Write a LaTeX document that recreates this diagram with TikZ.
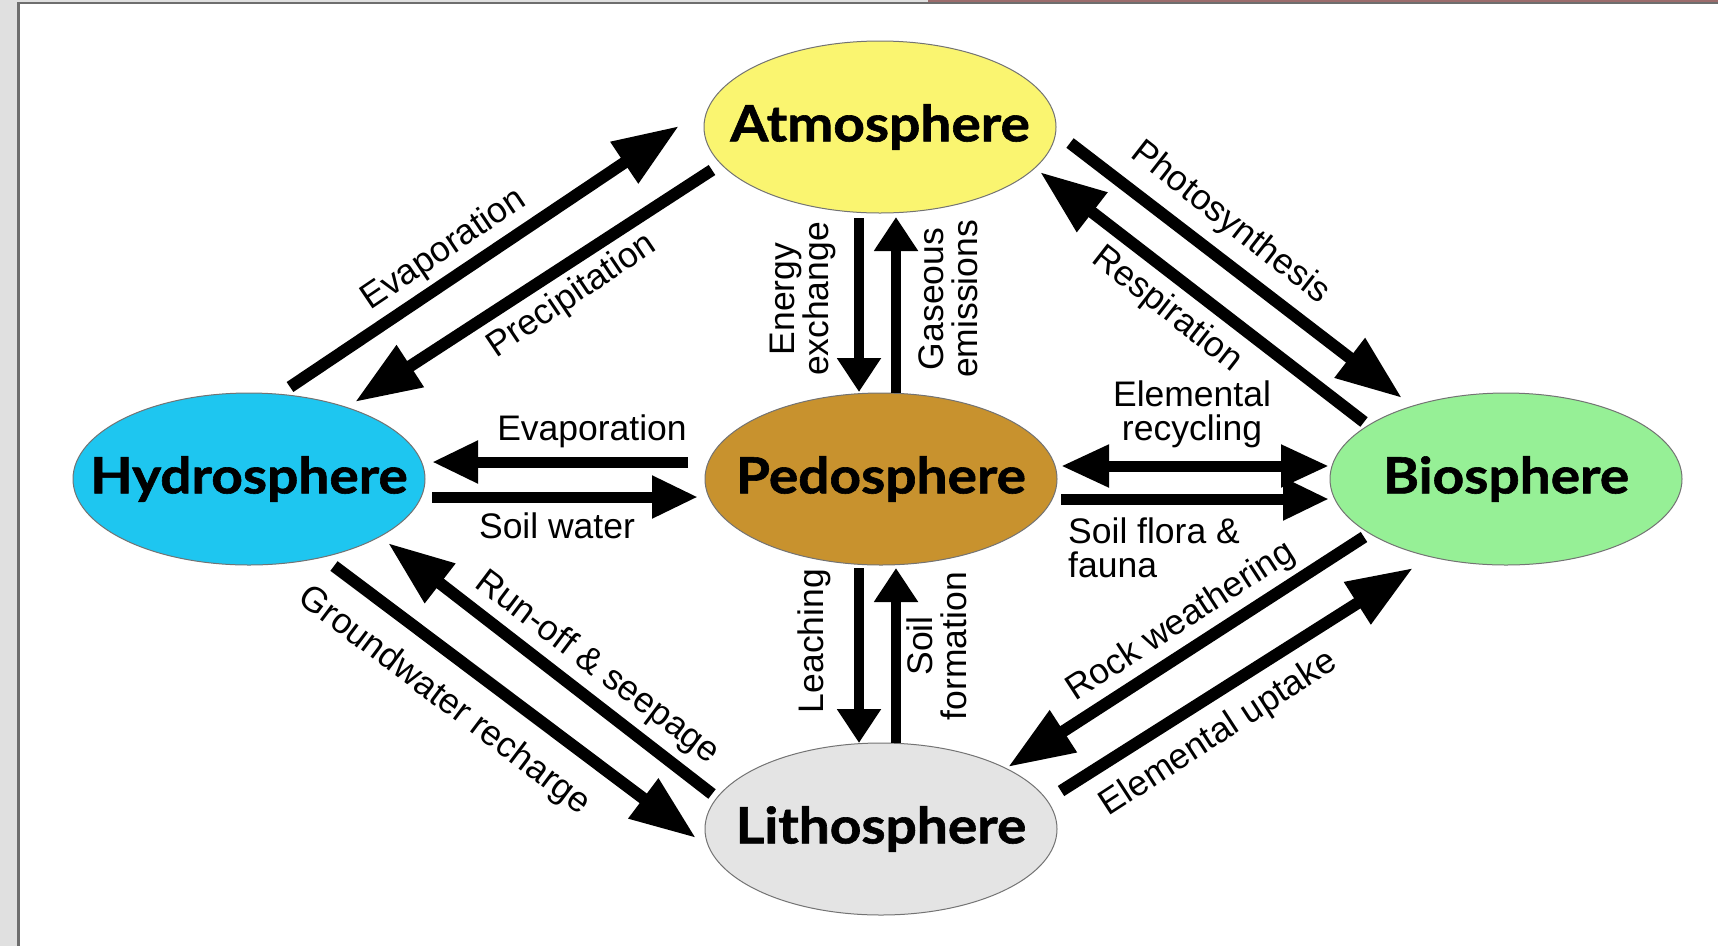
\documentclass[tikz,border=0pt]{standalone}
\usepackage{fontspec}
\setmainfont{Liberation Sans}
\newfontfamily\headfont{Lato}[FakeStretch=1.1, BoldFeatures={FakeBold=1.2}]
\usetikzlibrary{arrows.meta,shapes.geometric}
\definecolor{stripgrey}{HTML}{E0E0E0}
\definecolor{lineGrey}{HTML}{6E6E6E}
\definecolor{topred}{HTML}{9C6C6C}
\definecolor{atmcol}{HTML}{FAF570}
\definecolor{hydcol}{HTML}{1EC6F0}
\definecolor{pedcol}{HTML}{C8922E}
\definecolor{biocol}{HTML}{96F096}
\definecolor{litcol}{HTML}{E4E4E4}
\begin{document}
\begin{tikzpicture}[x=1pt,y=-1pt,
  sphere/.style={ellipse, draw=black!55, line width=1pt, minimum width=352pt,
    minimum height=172pt, inner sep=0pt},
  sphtext/.style={inner sep=0pt, font=\headfont\bfseries\fontsize{50}{52}\selectfont},
  flow/.style={line width=12pt, -{Triangle[length=66pt,width=47pt]}},
  hflow/.style={line width=11pt, -{Triangle[length=46pt,width=40pt]}},
  vflow/.style={line width=10pt, -{Triangle[length=34pt,width=42pt]}},
  dflow/.style={line width=11pt, {Triangle[length=48pt,width=40pt]}-{Triangle[length=48pt,width=40pt]}},
  lbl/.style={font=\fontsize{35.5}{34}\selectfont, align=center, inner sep=0pt}]
\useasboundingbox (0,0) rectangle (1718,946);
\fill[white] (0,0) rectangle (1718,946);
% frame
\fill[stripgrey] (0,0) rectangle (17,946);
\fill[stripgrey] (17,0) rectangle (928,2);
\fill[topred] (928,0) rectangle (1718,2);
\fill[lineGrey] (17,2) rectangle (1718,3.5);
\fill[lineGrey] (17,2) rectangle (19.5,946);

% spheres
\node[sphere, fill=atmcol] (atm) at (880,127) {};
\node[sphere, fill=hydcol] (hyd) at (249,479) {};
\node[sphere, fill=pedcol] (ped) at (881,479) {};
\node[sphere, fill=biocol] (bio) at (1506,479) {};
\node[sphere, fill=litcol] (lit) at (881,829) {};
\node[sphtext] (atmT) at (atm.center) {Atmosphere};
\node[sphtext] (hydT) at (hyd.center) {Hydrosphere};
\node[sphtext] (pedT) at (ped.center) {Pedosphere};
\node[sphtext] (bioT) at (bio.center) {Biosphere};
\node[sphtext] (litT) at (lit.center) {Lithosphere};

% arrow endpoints
\coordinate (evA) at (290,387);   \coordinate (evB) at (679,126);
\coordinate (prA) at (712,170);   \coordinate (prB) at (355,402);
\coordinate (phA) at (1070,143);  \coordinate (phB) at (1402,398);
\coordinate (reA) at (1364,422);  \coordinate (reB) at (1040,172);
\coordinate (enA) at (859,218);   \coordinate (enB) at (859,392);
\coordinate (gaA) at (896,393);   \coordinate (gaB) at (896,217);
\coordinate (epA) at (688,462);   \coordinate (epB) at (432,462);
\coordinate (swA) at (432,497);   \coordinate (swB) at (698,497);
\coordinate (erA) at (1061,466);  \coordinate (erB) at (1329,466);
\coordinate (sfA) at (1061,499);  \coordinate (sfB) at (1329,499);
\coordinate (leA) at (859,568);   \coordinate (leB) at (859,743);
\coordinate (soA) at (896,743);   \coordinate (soB) at (896,568);
\coordinate (grA) at (334,566);   \coordinate (grB) at (696,838);
\coordinate (ruA) at (712,794);   \coordinate (ruB) at (388,543);
\coordinate (rwA) at (1364,537);  \coordinate (rwB) at (1008,767);
\coordinate (euA) at (1061,791);  \coordinate (euB) at (1413,568);

% arrows
\draw[flow] (evA) -- (evB);
\draw[flow] (prA) -- (prB);
\draw[flow] (phA) -- (phB);
\draw[flow] (reA) -- (reB);
\draw[vflow] (enA) -- (enB);
\draw[vflow] (gaA) -- (gaB);
\draw[hflow] (epA) -- (epB);
\draw[hflow] (swA) -- (swB);
\draw[dflow] (erA) -- (erB);
\draw[hflow] (sfA) -- (sfB);
\draw[vflow] (leA) -- (leB);
\draw[vflow] (soA) -- (soB);
\draw[flow] (grA) -- (grB);
\draw[flow] (ruA) -- (ruB);
\draw[flow] (rwA) -- (rwB);
\draw[flow] (euA) -- (euB);

% labels
\node[lbl, rotate=34] (l1) at (444,250) {Evaporation};
\node[lbl, rotate=34] (l2) at (572,296) {Precipitation};
\node[lbl, rotate=-38] (l3) at (1230,223) {Photosynthesis};
\node[lbl, rotate=-38] (l4) at (1167,310) {Respiration};
\node[lbl, rotate=90] (l5) at (803,299) {Energy\\exchange};
\node[lbl, rotate=90] (l6) at (948,299) {Gaseous\\emissions};
\node[lbl] (l7) at (592,431) {Evaporation};
\node[lbl] (l8) at (557,526) {Soil water};
\node[lbl] (l9) at (1192,414) {Elemental\\recycling};
\node[lbl, align=left, anchor=west] (l10) at (1068,548) {Soil flora \&\\fauna};
\node[lbl, rotate=90] (l11) at (814,641) {Leaching};
\node[lbl, rotate=90] (l12) at (937,646) {Soil\\formation};
\node[lbl, rotate=-37] (l13) at (444,701) {Groundwater recharge};
\node[lbl, rotate=-37] (l14) at (597,668) {Run-off \& seepage};
\node[lbl, rotate=33] (l15) at (1181,622) {Rock weathering};
\node[lbl, rotate=33] (l16) at (1219,734) {Elemental uptake};
\end{tikzpicture}
\end{document}
